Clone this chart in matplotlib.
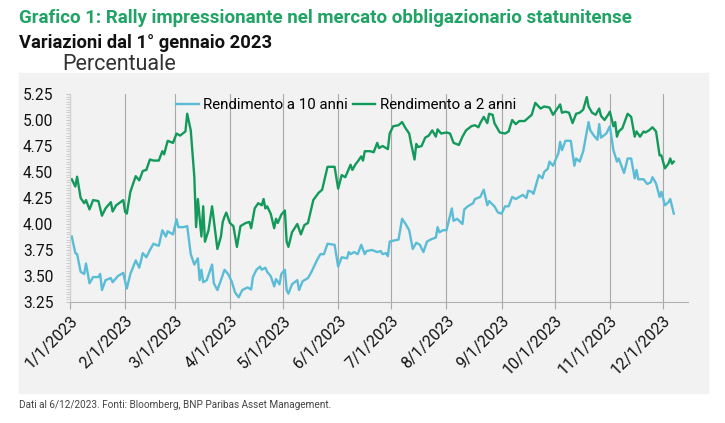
import numpy as np
import pandas as pd
import matplotlib
matplotlib.use('Agg')
import matplotlib.pyplot as plt
from matplotlib.patches import Rectangle
from matplotlib.ticker import MultipleLocator, FormatStrFormatter

plt.rcParams['font.family'] = ['Roboto', 'DejaVu Sans']

start = pd.Timestamp('2023-01-01')

# giorni dal 1/1/2023 e rendimenti (%)
days_10y = [1, 3, 4, 6, 8, 9, 11, 13, 16, 17, 18, 20, 23, 24, 27, 30, 31, 32, 34, 37,
            39, 41, 43, 45, 47, 50, 52, 54, 55, 58, 60, 61, 64, 66, 68, 70, 72, 73, 74, 75,
            77, 80, 81, 83, 85, 87, 89, 91, 93, 95, 97, 100, 102, 103, 105, 107, 108, 110, 111, 113,
            115, 116, 118, 119, 121, 122, 123, 125, 128, 129, 131, 134, 136, 139, 141, 143, 145, 149, 151, 153,
            156, 157, 158, 160, 162, 164, 166, 167, 170, 173, 175, 176, 178, 179, 180, 182, 185, 187, 189, 191,
            193, 195, 197, 199, 201, 203, 206, 207, 208, 210, 212, 214, 215, 216, 218, 221, 222, 224, 227, 228,
            231, 233, 235, 236, 239, 241, 243, 245, 247, 249, 251, 253, 255, 257, 258, 260, 261, 264, 266, 267,
            269, 270, 272, 275, 276, 277, 279, 282, 284, 285, 287, 289, 292, 293, 295, 297, 298, 299, 302, 304,
            306, 308, 309, 312, 314, 316, 318, 319, 320, 323, 325, 327, 328, 330, 332, 333, 335, 337, 338, 340]
yield_10y = [3.88, 3.72, 3.71, 3.54, 3.52, 3.62, 3.43, 3.49, 3.49, 3.52, 3.365, 3.46, 3.48, 3.44, 3.50, 3.53, 3.45, 3.38, 3.52, 3.65,
             3.58, 3.72, 3.68, 3.75, 3.81, 3.79, 3.94, 3.88, 3.93, 3.90, 4.045, 3.97, 3.97, 3.98, 3.71, 3.61, 3.67, 3.46, 3.56, 3.44,
             3.46, 3.61, 3.43, 3.365, 3.46, 3.56, 3.52, 3.45, 3.34, 3.295, 3.365, 3.39, 3.37, 3.49, 3.56, 3.59, 3.56, 3.58, 3.54, 3.50,
             3.40, 3.47, 3.42, 3.52, 3.56, 3.365, 3.33, 3.42, 3.46, 3.365, 3.45, 3.48, 3.54, 3.65, 3.71, 3.71, 3.81, 3.80, 3.59, 3.68,
             3.67, 3.73, 3.71, 3.73, 3.71, 3.80, 3.71, 3.74, 3.75, 3.73, 3.74, 3.71, 3.72, 3.69, 3.83, 3.84, 3.85, 4.05, 4.00, 3.94,
             3.76, 3.82, 3.80, 3.73, 3.83, 3.85, 3.87, 3.97, 3.92, 3.94, 3.94, 4.08, 4.15, 4.03, 4.05, 4.00, 4.14, 4.17, 4.20, 4.24,
             4.26, 4.33, 4.18, 4.22, 4.17, 4.11, 4.10, 4.17, 4.17, 4.26, 4.24, 4.26, 4.28, 4.25, 4.32, 4.31, 4.29, 4.47, 4.44, 4.50,
             4.53, 4.60, 4.56, 4.68, 4.79, 4.71, 4.80, 4.80, 4.56, 4.63, 4.60, 4.70, 4.98, 4.90, 4.85, 4.81, 4.96, 4.83, 4.87, 4.94,
             4.71, 4.60, 4.63, 4.49, 4.63, 4.63, 4.44, 4.52, 4.43, 4.43, 4.385, 4.40, 4.45, 4.39, 4.26, 4.31, 4.18, 4.21, 4.24, 4.10]

days_2y = [1, 3, 4, 6, 8, 9, 11, 13, 16, 18, 20, 23, 24, 26, 30, 31, 32, 34, 37, 39,
           41, 43, 45, 47, 50, 52, 53, 55, 58, 60, 62, 65, 66, 68, 70, 71, 72, 74, 75, 76,
           78, 80, 83, 85, 86, 87, 88, 90, 92, 94, 96, 99, 101, 102, 104, 106, 108, 109, 110, 111,
           113, 115, 116, 117, 119, 121, 122, 123, 125, 128, 130, 132, 134, 137, 140, 142, 145, 149, 151, 153,
           155, 156, 158, 159, 161, 162, 164, 165, 166, 169, 171, 173, 174, 176, 179, 180, 182, 185, 187, 189,
           191, 192, 194, 195, 196, 198, 200, 202, 204, 206, 207, 209, 212, 214, 216, 219, 221, 223, 226, 228,
           230, 231, 233, 235, 236, 238, 239, 242, 245, 247, 249, 251, 253, 256, 258, 260, 262, 265, 267, 270,
           272, 274, 276, 277, 279, 281, 283, 285, 287, 289, 291, 292, 294, 296, 298, 299, 301, 303, 304, 306,
           307, 308, 309, 311, 314, 316, 318, 319, 321, 323, 324, 326, 328, 330, 332, 333, 335, 337, 338, 339, 340]
yield_2y = [4.43, 4.36, 4.455, 4.25, 4.20, 4.23, 4.14, 4.23, 4.22, 4.08, 4.15, 4.21, 4.12, 4.18, 4.23, 4.12, 4.10, 4.31, 4.46, 4.42,
            4.51, 4.52, 4.62, 4.61, 4.61, 4.70, 4.67, 4.80, 4.78, 4.87, 4.85, 4.89, 5.06, 4.90, 4.455, 3.97, 4.24, 3.88, 4.17, 3.83,
            3.94, 4.17, 3.76, 3.88, 4.02, 4.07, 4.11, 4.01, 3.98, 3.78, 3.98, 4.01, 4.02, 3.96, 4.15, 4.20, 4.18, 4.24, 4.15, 4.17,
            4.10, 3.96, 4.05, 4.01, 4.09, 4.13, 3.83, 3.78, 3.92, 4.00, 3.90, 3.99, 4.01, 4.23, 4.30, 4.33, 4.55, 4.55, 4.34, 4.47,
            4.45, 4.49, 4.57, 4.52, 4.58, 4.60, 4.65, 4.61, 4.70, 4.70, 4.69, 4.78, 4.73, 4.75, 4.72, 4.87, 4.94, 4.95, 4.98, 4.92,
            4.87, 4.78, 4.62, 4.77, 4.74, 4.75, 4.83, 4.85, 4.90, 4.84, 4.91, 4.87, 4.88, 4.87, 4.78, 4.76, 4.84, 4.90, 4.94, 4.95,
            4.93, 4.97, 5.03, 4.97, 5.06, 5.05, 4.97, 4.88, 4.87, 4.89, 5.00, 4.96, 4.99, 4.99, 5.02, 5.05, 5.165, 5.11, 5.13, 5.12,
            5.05, 5.10, 5.15, 5.07, 5.08, 5.07, 4.97, 5.06, 5.07, 5.10, 5.22, 5.13, 5.07, 5.05, 5.11, 5.04, 5.00, 5.05, 5.08, 4.94,
            4.98, 4.84, 4.89, 4.92, 5.06, 5.03, 4.84, 4.89, 4.84, 4.89, 4.88, 4.90, 4.93, 4.89, 4.66, 4.66, 4.535, 4.58, 4.63, 4.58, 4.60]

label_10y = 'Rendimento a 10 anni'
label_2y = 'Rendimento a 2 anni'
title = 'Grafico 1: Rally impressionante nel mercato obbligazionario statunitense'
subtitle = 'Variazioni dal 1° gennaio 2023'
unit = 'Percentuale'
note = 'Dati al 6/12/2023. Fonti: Bloomberg, BNP Paribas Asset Management.'

month_ticks = pd.date_range('2023-01-01', '2023-12-01', freq='MS')
month_labels = [f'{d.month}/{d.day}/{d.year}' for d in month_ticks]

dates_10y = start + pd.to_timedelta(days_10y, unit='D')
dates_2y = start + pd.to_timedelta(days_2y, unit='D')

green = '#139a5b'
blue = '#5bbcd6'
W, H = 725, 423

fig = plt.figure(figsize=(W / 100, H / 100), dpi=100)
# pannello grigio dietro il grafico
fig.patches.append(Rectangle((19 / W, 1 - 393 / H), (708 - 19) / W, (393 - 73) / H,
                             transform=fig.transFigure, color='#f2f2f2', zorder=-10))

ax = fig.add_axes([70 / W, 1 - 302 / H, (688 - 70) / W, (302 - 94) / H])
ax.set_facecolor('none')
ax.set_zorder(1)

ax.plot(dates_10y, yield_10y, color=blue, lw=1.7, label=label_10y)
ax.plot(dates_2y, yield_2y, color=green, lw=1.7, label=label_2y)

ax.set_xlim(start, pd.Timestamp('2023-12-15'))
ax.set_ylim(3.25, 5.25)

ax.set_xticks(month_ticks)
ax.set_xticklabels(month_labels, rotation=45, ha='right', rotation_mode='anchor')
ax.yaxis.set_major_locator(MultipleLocator(0.25))
ax.yaxis.set_minor_locator(MultipleLocator(0.025))
ax.yaxis.set_major_formatter(FormatStrFormatter('%.2f'))

ax.grid(axis='x', color='#a8a8a8', lw=0.8)
ax.set_axisbelow(True)
for s in ['top', 'right']:
    ax.spines[s].set_visible(False)
ax.spines['left'].set_color('#cfcfcf')
ax.spines['bottom'].set_color('#b0b0b0')

ax.tick_params(axis='x', length=5, color='#a8a8a8', labelsize=11.5, pad=3, labelcolor='#111111')
ax.tick_params(axis='y', which='both', length=3, color='#c8c8c8', labelsize=11.2, pad=9, labelcolor='#111111')

ax.legend(loc='center', bbox_to_anchor=(346 / W, 1 - 105 / H), bbox_transform=fig.transFigure,
          ncol=2, frameon=False, fontsize=10.8, handlelength=1.5, handletextpad=0.3,
          columnspacing=0.3)

fig.text(19 / W, 1 - 18 / H, title, color='#21a366', fontsize=13.5, fontweight='bold', va='center')
fig.text(19 / W, 1 - 43 / H, subtitle, color='#111111', fontsize=13.2, fontweight='bold', va='center')
fig.text(62 / W, 1 - 65 / H, unit, color='#333333', fontsize=15.5, va='center')
fig.text(19 / W, 1 - 405 / H, note, color='#444444', fontsize=7.2, va='center')

fig.savefig('out.png', dpi=100)
